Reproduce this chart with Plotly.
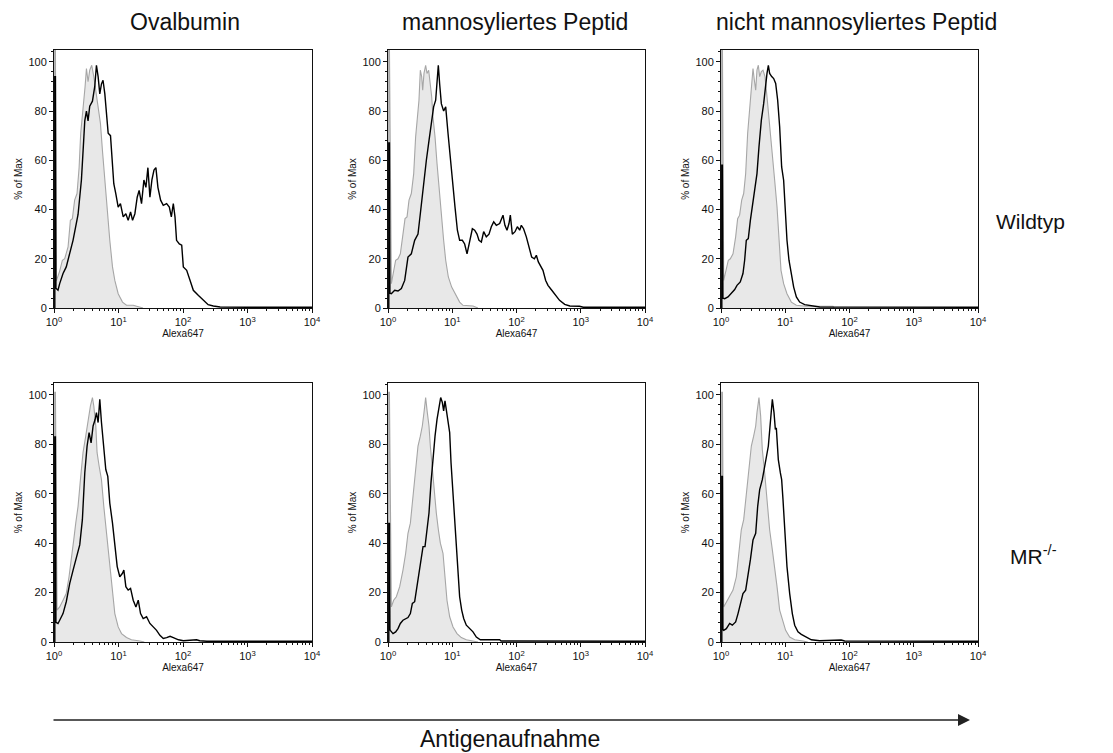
import plotly.graph_objects as go

# ---------------- text ----------------
column_titles = ["Ovalbumin", "mannosyliertes Peptid", "nicht mannosyliertes Peptid"]
row_titles = ["Wildtyp", "MR<sup>-/-</sup>"]
x_title = "Alexa647"
y_title = "% of Max"
arrow_label = "Antigenaufnahme"

x_tick_values = [1, 10, 100, 1000, 10000]
x_tick_labels = ["10<sup>0</sup>", "10<sup>1</sup>", "10<sup>2</sup>", "10<sup>3</sup>", "10<sup>4</sup>"]
y_tick_values = [0, 20, 40, 60, 80, 100]
y_tick_labels = ["0", "20", "40", "60", "80", "100"]

# ---------------- data (log10 of Alexa647 intensity, % of Max) ----------------
# Wildtyp / Ovalbumin
ova_wt_stain_log = [0.012, 0.012, 0.022, 0.03, 0.062, 0.088, 0.14, 0.19, 0.244, 0.295, 0.373, 0.425, 0.46, 0.477,
                    0.503, 0.528, 0.554, 0.596, 0.632, 0.658, 0.684, 0.71, 0.736, 0.76, 0.788, 0.813, 0.84, 0.876,
                    0.907, 0.927, 0.958, 0.995, 1.03, 1.073, 1.114, 1.15, 1.187, 1.218, 1.254, 1.29, 1.32, 1.357,
                    1.394, 1.425, 1.456, 1.487, 1.518, 1.55, 1.58, 1.611, 1.653, 1.694, 1.746, 1.788, 1.819, 1.85,
                    1.876, 1.9, 1.943, 1.98, 2.005, 2.057, 2.11, 2.16, 2.24, 2.316, 2.39, 2.47, 2.575, 3.0, 4.0]
ova_wt_stain_pct = [0, 94, 94, 8, 7.2, 9.9, 14, 16.7, 22, 27.5, 38, 52, 68, 76,
                    80, 76, 82, 84, 90, 98.6, 94, 87, 91, 92.5, 87, 77.6, 71, 70,
                    57, 50.5, 46.5, 41, 42.4, 37, 38.3, 35.6, 39, 35.6, 38.3, 45, 47.8, 42.4,
                    52, 49, 57, 45, 52, 56, 57, 49, 43.8, 41.7, 42.4, 41, 37, 42.4,
                    37, 27.5, 26, 25.5, 16.7, 15.3, 11.2, 7.2, 5.1, 3.1, 1.35, 0.8, 0.4, 0.3, 0.3]
ova_wt_ctrl_log = [0.012, 0.012, 0.022, 0.036, 0.088, 0.13, 0.166, 0.218, 0.254, 0.285, 0.32, 0.357, 0.389, 0.414,
                   0.44, 0.461, 0.482, 0.503, 0.528, 0.554, 0.585, 0.617, 0.648, 0.684, 0.72, 0.751, 0.788, 0.824,
                   0.865, 0.907, 0.943, 0.995, 1.062, 1.124, 1.228, 1.38]
ova_wt_ctrl_pct = [0, 107, 107, 11, 15, 19.4, 20, 24.8, 35.6, 36.3, 43.8, 46.5, 57, 71,
                   77.6, 84.4, 90, 97.3, 91.9, 96.6, 98.6, 94, 88.5, 81.7, 75, 64, 52, 38.3,
                   27.5, 16.7, 11.2, 5.8, 2.4, 1.1, 1.1, 0]

# Wildtyp / mannosyliertes Peptid
man_wt_stain_log = [0.012, 0.012, 0.022, 0.03, 0.052, 0.104, 0.156, 0.208, 0.26, 0.311, 0.363, 0.415, 0.467, 0.503,
                    0.545, 0.597, 0.638, 0.674, 0.71, 0.742, 0.763, 0.783, 0.804, 0.83, 0.866, 0.898, 0.934, 0.97,
                    1.012, 1.043, 1.08, 1.115, 1.157, 1.193, 1.23, 1.27, 1.313, 1.349, 1.385, 1.416, 1.453, 1.489,
                    1.53, 1.572, 1.608, 1.645, 1.686, 1.738, 1.79, 1.82, 1.852, 1.883, 1.904, 1.935, 1.977, 2.013,
                    2.05, 2.075, 2.11, 2.153, 2.195, 2.236, 2.278, 2.309, 2.34, 2.371, 2.412, 2.454, 2.49, 2.54,
                    2.594, 2.67, 2.75, 2.83, 2.98, 3.04, 4.0]
man_wt_stain_pct = [0, 67, 67, 6, 5.8, 7.2, 6.9, 7.9, 11.2, 20.7, 22, 27.5, 30, 38.3,
                    49, 60, 68, 76, 81.7, 84.4, 92.5, 98.6, 91, 83, 80, 81.7, 71, 60,
                    49, 41, 31.6, 27.5, 27.5, 26, 22, 27.5, 32.2, 31.6, 30, 27.5, 26.8, 31,
                    28.9, 30, 33, 35, 33.6, 34.3, 37.7, 33.6, 31.6, 34.3, 37.7, 30, 31, 33,
                    31.6, 33.6, 32.2, 28.9, 24.8, 20.7, 20, 21.4, 18.7, 17.3, 15.3, 11.2, 9.2, 7.5,
                    5.8, 3.1, 1.5, 0.8, 0.7, 0.3, 0.3]
man_wt_ctrl_log = [0.012, 0.012, 0.022, 0.052, 0.088, 0.119, 0.156, 0.192, 0.233, 0.265, 0.296, 0.327, 0.363, 0.4,
                   0.43, 0.457, 0.482, 0.503, 0.524, 0.54, 0.56, 0.586, 0.607, 0.633, 0.659, 0.68, 0.7, 0.732,
                   0.763, 0.804, 0.835, 0.866, 0.898, 0.939, 0.991, 1.053, 1.115, 1.167, 1.323, 1.4]
man_wt_ctrl_pct = [0, 107, 107, 9.9, 15.3, 19.4, 20, 22, 30, 36.3, 37, 43.8, 46.5, 54.6,
                   69.5, 79, 84.4, 96.6, 94, 88.5, 95.3, 98.6, 95.3, 96.6, 90, 85.8, 77.6, 69.5,
                   58.7, 45, 34.3, 27.5, 19.4, 12.6, 8.5, 5.1, 2.4, 1.1, 0.8, 0]

# Wildtyp / nicht mannosyliertes Peptid
non_wt_stain_log = [0.012, 0.012, 0.022, 0.03, 0.057, 0.109, 0.161, 0.213, 0.249, 0.3, 0.342, 0.368, 0.394, 0.425,
                    0.457, 0.488, 0.524, 0.56, 0.591, 0.628, 0.664, 0.695, 0.716, 0.737, 0.757, 0.789, 0.82, 0.851,
                    0.882, 0.913, 0.944, 0.975, 0.996, 1.027, 1.058, 1.095, 1.131, 1.173, 1.224, 1.302, 1.406,
                    1.536, 4.0]
non_wt_stain_pct = [0, 58, 58, 4, 3.8, 4.5, 5.8, 7.5, 9.2, 10.6, 14, 19.4, 27.5, 28.2,
                    35.6, 41, 46.5, 54.6, 65.4, 76.3, 83, 91.2, 95.3, 98.6, 95.3, 94, 93.2, 91.2,
                    84.4, 73.6, 57.3, 51.9, 41, 27.5, 19.4, 14, 8.5, 4.5, 2.4, 1.35, 0.8,
                    0.4, 0.3]
non_wt_ctrl_log = [0.012, 0.012, 0.022, 0.042, 0.083, 0.114, 0.145, 0.187, 0.228, 0.259, 0.29, 0.322, 0.353, 0.384,
                   0.415, 0.446, 0.477, 0.498, 0.519, 0.54, 0.56, 0.581, 0.602, 0.628, 0.654, 0.685, 0.716, 0.757,
                   0.799, 0.835, 0.872, 0.903, 0.934, 0.975, 1.027, 1.095, 1.173, 1.328, 1.743, 1.76]
non_wt_ctrl_pct = [0, 107, 107, 11.2, 16.7, 19.4, 20, 22, 28.9, 36.3, 37.7, 43.8, 46.5, 54.6,
                   71, 81.7, 94, 97.3, 92.5, 88.5, 96.6, 98.6, 94, 96, 96.6, 94, 85.8, 75,
                   64, 52, 41, 26, 15.3, 9.9, 5.8, 2.4, 1.1, 0.7, 0.7, 0]

# MR-/- / Ovalbumin
ova_ko_stain_log = [0.012, 0.012, 0.022, 0.03, 0.062, 0.088, 0.14, 0.19, 0.244, 0.295, 0.347, 0.399, 0.44, 0.477,
                    0.513, 0.544, 0.575, 0.606, 0.637, 0.658, 0.684, 0.71, 0.736, 0.772, 0.803, 0.834, 0.865,
                    0.907, 0.943, 0.98, 1.02, 1.062, 1.083, 1.114, 1.15, 1.187, 1.228, 1.27, 1.306, 1.342, 1.383,
                    1.435, 1.487, 1.539, 1.59, 1.642, 1.694, 1.746, 1.8, 1.85, 1.93, 2.005, 2.11, 2.21, 2.26,
                    2.37, 4.0]
ova_ko_stain_pct = [0, 83, 83, 8, 7.5, 8.8, 11.5, 16.3, 23.7, 29, 34.6, 39.3, 49.5, 68.4,
                    79.3, 84.7, 80.6, 87.4, 90, 92.8, 88.8, 98.2, 88.8, 79.3, 69.8, 67, 56.2,
                    48.1, 38.6, 30.5, 26.4, 27.8, 29.1, 22.4, 21, 21.7, 16.9, 14.2, 16.9, 11.5, 9.5,
                    10.2, 7.5, 6.1, 4.7, 2.7, 1.4, 1.8, 2.3, 1.8, 0.9, 0.5, 0.7, 0.9, 0.5,
                    0.3, 0.3]
ova_ko_ctrl_log = [0.012, 0.012, 0.022, 0.047, 0.088, 0.14, 0.19, 0.233, 0.27, 0.306, 0.337, 0.373, 0.41, 0.45,
                   0.492, 0.528, 0.565, 0.596, 0.617, 0.648, 0.668, 0.7, 0.736, 0.772, 0.803, 0.84, 0.876, 0.907,
                   0.943, 0.995, 1.047, 1.124, 1.2, 1.33, 1.4]
ova_ko_ctrl_pct = [0, 101, 101, 12.9, 14.2, 16.9, 19.6, 26.4, 33.2, 41.3, 48.1, 54.9, 65.7, 76.6,
                   83.3, 90.1, 95.5, 98.9, 95.5, 87.4, 76.6, 71.1, 65.7, 54.9, 46.7, 35.9, 29.1, 18.3,
                   11.5, 6.1, 3.4, 1.8, 0.9, 0.4, 0]

# MR-/- / mannosyliertes Peptid
man_ko_stain_log = [0.012, 0.012, 0.022, 0.03, 0.036, 0.078, 0.119, 0.156, 0.192, 0.233, 0.275, 0.311, 0.348, 0.379,
                    0.415, 0.451, 0.482, 0.514, 0.545, 0.576, 0.607, 0.638, 0.669, 0.7, 0.732, 0.763, 0.794, 0.82,
                    0.846, 0.866, 0.887, 0.908, 0.934, 0.96, 0.981, 1.012, 1.043, 1.074, 1.115, 1.147, 1.178,
                    1.219, 1.27, 1.323, 1.375, 1.437, 1.58, 1.738, 1.76, 4.0]
man_ko_stain_pct = [0, 48, 48, 5, 4.7, 3.4, 4.1, 5.4, 7.5, 8.8, 9.5, 9.9, 11.5, 15.6,
                    16.3, 22.4, 26.4, 31.8, 38.6, 38.6, 46.7, 52.2, 64.4, 75.2, 83.3, 90.1, 94.2, 98.9,
                    96.9, 93.5, 97.6, 94.2, 88.8, 84.7, 72.5, 58.9, 45.4, 31.8, 18.3, 12.9, 9.5,
                    6.8, 5.4, 4.1, 2, 0.9, 0.9, 0.9, 0.4, 0.3]
man_ko_ctrl_log = [0.012, 0.012, 0.022, 0.052, 0.088, 0.13, 0.182, 0.233, 0.275, 0.311, 0.348, 0.389, 0.43, 0.467,
                   0.503, 0.534, 0.56, 0.586, 0.612, 0.638, 0.659, 0.69, 0.721, 0.752, 0.784, 0.815, 0.856, 0.887,
                   0.918, 0.96, 1.012, 1.074, 1.141, 1.219, 1.323, 1.4]
man_ko_ctrl_pct = [0, 101, 101, 14.2, 16.9, 18.3, 22.4, 29.1, 35.9, 44, 48.1, 58.9, 68.4, 79.3,
                   83.3, 87.4, 92.8, 98.9, 92.8, 87.4, 79.3, 69.8, 58.9, 52.2, 45.4, 40, 35.9, 27.8,
                   16.9, 10.2, 6.1, 3.4, 1.8, 0.9, 0.4, 0]

# MR-/- / nicht mannosyliertes Peptid
non_ko_stain_log = [0.012, 0.012, 0.022, 0.03, 0.042, 0.083, 0.135, 0.176, 0.228, 0.265, 0.301, 0.342, 0.384, 0.42,
                    0.457, 0.498, 0.54, 0.571, 0.602, 0.643, 0.68, 0.706, 0.737, 0.768, 0.799, 0.825, 0.846,
                    0.861, 0.892, 0.924, 0.944, 0.965, 0.996, 1.027, 1.069, 1.11, 1.147, 1.198, 1.25, 1.328,
                    1.406, 1.536, 1.795, 1.87, 1.925, 4.0]
non_ko_stain_pct = [0, 67, 67, 5, 4.7, 5.4, 7.5, 6.8, 8.1, 11.5, 15.6, 19.6, 21, 26.4,
                    33.2, 41.3, 44, 54.9, 61.7, 65.7, 71.1, 75.2, 79.3, 88.8, 98.2, 92.8, 86,
                    86.7, 73.8, 68.4, 65.7, 57.6, 44, 30.5, 19.6, 11.5, 6.8, 4.1, 3.1, 2,
                    0.9, 0.5, 0.7, 0.8, 0.4, 0.3]
non_ko_ctrl_log = [0.012, 0.012, 0.022, 0.042, 0.083, 0.135, 0.187, 0.239, 0.28, 0.316, 0.353, 0.394, 0.436, 0.472,
                   0.508, 0.54, 0.56, 0.591, 0.617, 0.643, 0.68, 0.716, 0.757, 0.799, 0.835, 0.872, 0.913, 0.955,
                   1.006, 1.069, 1.147, 1.276, 1.35]
non_ko_ctrl_pct = [0, 101, 101, 14.2, 16.3, 18.3, 21, 26.4, 35.9, 45.4, 49.5, 60.3, 71.1, 79.3,
                   83.3, 87.4, 92.8, 98.9, 91.5, 77.9, 68.4, 56.2, 45.4, 37.3, 30.5, 22.4, 12.9, 8.8,
                   4.7, 2, 0.9, 0.4, 0]

panels = [
    (ova_wt_ctrl_log, ova_wt_ctrl_pct, ova_wt_stain_log, ova_wt_stain_pct),
    (man_wt_ctrl_log, man_wt_ctrl_pct, man_wt_stain_log, man_wt_stain_pct),
    (non_wt_ctrl_log, non_wt_ctrl_pct, non_wt_stain_log, non_wt_stain_pct),
    (ova_ko_ctrl_log, ova_ko_ctrl_pct, ova_ko_stain_log, ova_ko_stain_pct),
    (man_ko_ctrl_log, man_ko_ctrl_pct, man_ko_stain_log, man_ko_stain_pct),
    (non_ko_ctrl_log, non_ko_ctrl_pct, non_ko_stain_log, non_ko_stain_pct),
]

# ---------------- layout geometry ----------------
W, H = 1113, 753
col_px = [(54, 312), (388, 645), (721, 978)]
row_px = [(50, 308), (383, 642)]

FONT = "Liberation Sans, Arial, sans-serif"
minor_x = [m * 10 ** d for d in range(4) for m in range(2, 10)]

fig = go.Figure()
layout = dict(
    width=W, height=H, margin=dict(l=0, r=0, t=0, b=0, autoexpand=False),
    paper_bgcolor="white", plot_bgcolor="white", showlegend=False,
    font=dict(family=FONT, color="#222"),
)

for i, (cl, cp, sl, sp) in enumerate(panels):
    r, c = divmod(i, 3)
    n = "" if i == 0 else str(i + 1)
    xa, ya = "x" + n, "y" + n
    fig.add_trace(go.Scatter(x=[10 ** v for v in cl], y=cp, xaxis=xa, yaxis=ya, mode="lines",
                             fill="tozeroy", fillcolor="#e8e8e8",
                             line=dict(color="#a6a6a6", width=1.1), hoverinfo="skip"))
    fig.add_trace(go.Scatter(x=[10 ** v for v in sl], y=sp, xaxis=xa, yaxis=ya, mode="lines",
                             line=dict(color="#000000", width=1.4), hoverinfo="skip"))
    x0, x1 = col_px[c]
    y0, y1 = row_px[r]
    layout["xaxis" + n] = dict(
        type="log", range=[0, 4], domain=[x0 / W, x1 / W], anchor=ya, automargin=False,
        showline=True, linecolor="#111", linewidth=1, mirror=True, showgrid=False, zeroline=False,
        tickmode="array", tickvals=x_tick_values, ticktext=x_tick_labels,
        ticks="outside", ticklen=4, tickcolor="#111", tickfont=dict(size=11, family=FONT, color="#111"),
        minor=dict(tickmode="array", tickvals=minor_x, ticks="outside", ticklen=2, tickcolor="#111", showgrid=False),
        title=dict(text=x_title, font=dict(size=10, family=FONT, color="#111"), standoff=2),
    )
    layout["yaxis" + n] = dict(
        range=[0, 104.8], domain=[1 - y1 / H, 1 - y0 / H], anchor=xa, automargin=False,
        showline=True, linecolor="#111", linewidth=1, mirror=True, showgrid=False, zeroline=False,
        tickmode="array", tickvals=y_tick_values, ticktext=y_tick_labels,
        ticks="outside", ticklen=4, tickcolor="#111", tickfont=dict(size=11, family=FONT, color="#111"),
        minor=dict(dtick=4, ticks="outside", ticklen=2, tickcolor="#111", showgrid=False),
        title=dict(text=y_title, font=dict(size=10, family=FONT, color="#111"), standoff=3),
    )

annotations = []
col_centers = [185, 515, 856]
for t, cx in zip(column_titles, col_centers):
    annotations.append(dict(text=t, x=cx / W, y=1 - 22 / H, xref="paper", yref="paper",
                            showarrow=False, xanchor="center", yanchor="middle",
                            font=dict(size=23, family=FONT, color="#111")))
row_centers = [222, 555]
row_x = [1030, 1033]
for t, cy, rx in zip(row_titles, row_centers, row_x):
    annotations.append(dict(text=t, x=rx / W, y=1 - cy / H, xref="paper", yref="paper",
                            showarrow=False, xanchor="center", yanchor="middle",
                            font=dict(size=21, family=FONT, color="#111")))
annotations.append(dict(text="", x=970 / W, y=1 - 720 / H, xref="paper", yref="paper",
                        ax=-(970 - 52), ay=0, axref="pixel", ayref="pixel",
                        showarrow=True, arrowhead=2, arrowsize=1.6, arrowwidth=1.5, arrowcolor="#222"))
annotations.append(dict(text=arrow_label, x=510 / W, y=1 - 739 / H, xref="paper", yref="paper",
                        showarrow=False, xanchor="center", yanchor="middle",
                        font=dict(size=23, family=FONT, color="#111")))
layout["annotations"] = annotations

fig.update_layout(**layout)
fig.write_html("out.html", config={"displayModeBar": False},
               post_script="document.body.style.margin='0px';document.body.style.overflow='hidden';")
